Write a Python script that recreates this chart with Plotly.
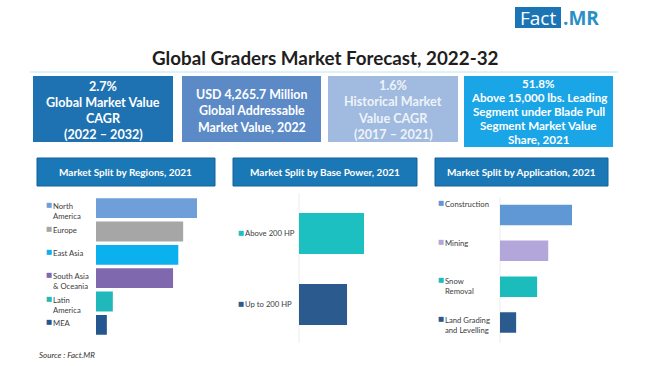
import plotly.graph_objects as go

W, H = 650, 366

# ---------------- data ----------------
title = "Global Graders Market Forecast, 2022-32"

kpi_lines = [
    ["2.7%", "Global Market Value", "CAGR", "(2022 – 2032)"],
    ["USD 4,265.7 Million", "Global Addressable", "Market Value, 2022"],
    ["1.6%", "Historical Market", "Value CAGR", "(2017 – 2021)"],
    ["51.8%", "Above 15,000 lbs. Leading", "Segment under Blade Pull", "Segment Market Value", "Share, 2021"],
]

region_labels = ["North<br>America", "Europe", "East Asia", "South Asia<br>& Oceania", "Latin<br>America", "MEA"]
region_values = [27.0, 23.3, 22.0, 20.6, 4.5, 2.9]
region_colors = ["#6f9fd8", "#a6a6a6", "#0bb0ee", "#7f68ad", "#20b8bb", "#24568f"]

power_labels = ["Above 200 HP", "Up to 200 HP"]
power_values = [57.5, 42.5]
power_colors = ["#1cc0c0", "#2b5a8e"]

app_labels = ["Construction", "Mining", "Snow<br>Removal", "Land Grading<br>and Levelling"]
app_values = [41.5, 27.8, 21.4, 9.3]
app_colors = ["#5f98d4", "#b2a6da", "#1cbcbd", "#2b5a8e"]

panel_titles = ["Market Split by Regions, 2021", "Market Split by Base Power, 2021",
                "Market Split by Application, 2021"]

# ---------------- helpers ----------------
def px(x):
    return x / W

def py(y):
    return 1 - y / H

fig = go.Figure()
shapes = []
annotations = []

# logo
shapes.append(dict(type="rect", xref="paper", yref="paper", x0=px(515), x1=px(561), y0=py(28), y1=py(7),
                   fillcolor="#1b75b5", line=dict(width=0), layer="below"))
annotations.append(dict(text="Fact", x=px(538), y=py(17.5), xref="paper", yref="paper", showarrow=False,
                        font=dict(family="Open Sans", size=19, color="white"), xanchor="center", yanchor="middle"))
annotations.append(dict(text="<b>.MR</b>", x=px(561), y=py(17.5), xref="paper", yref="paper", showarrow=False,
                        font=dict(family="Open Sans", size=19, color="#2a8fc6"), xanchor="left", yanchor="middle"))

# title
annotations.append(dict(text="<b>" + title + "</b>", x=px(325), y=py(58), xref="paper", yref="paper",
                        showarrow=False, font=dict(family="Lato", size=18.8, color="#1e1e1e"),
                        xanchor="center", yanchor="middle"))
shapes.append(dict(type="line", xref="paper", yref="paper", x0=px(30), x1=px(618), y0=py(72), y1=py(72),
                   line=dict(color="#dcf3fb", width=2)))

# KPI boxes
kpi_boxes = [(33, 173, 142), (182, 321, 142), (328, 458, 142), (464, 613, 147)]
kpi_colors = ["#1e72b1", "#5b8ac7", "#a0bbdf", "#19a5e6"]
kpi_text_colors = ["white", "white", "#eef3fa", "white"]
kpi_sizes = [12.6, 12.4, 12.6, 11.6]
kpi_first = [86, 94, 85, 83]
kpi_step = [16.2, 16.5, 16.5, 14.1]
for (x0, x1, yb), c, tc, lines, s, f0, st in zip(kpi_boxes, kpi_colors, kpi_text_colors, kpi_lines,
                                                 kpi_sizes, kpi_first, kpi_step):
    shapes.append(dict(type="rect", xref="paper", yref="paper", x0=px(x0), x1=px(x1), y0=py(yb), y1=py(76),
                       fillcolor=c, line=dict(width=0), layer="below"))
    for k, t in enumerate(lines):
        annotations.append(dict(text="<b>" + t + "</b>", x=px((x0 + x1) / 2), y=py(f0 + k * st), xref="paper",
                                yref="paper", showarrow=False, align="center",
                                font=dict(family="Lato", size=s, color=tc),
                                xanchor="center", yanchor="middle", borderpad=0))

# panel headers
header_boxes = [(37, 215), (233, 417), (435, 608)]
for (x0, x1), t in zip(header_boxes, panel_titles):
    shapes.append(dict(type="rect", xref="paper", yref="paper", x0=px(x0), x1=px(x1), y0=py(186), y1=py(158),
                       fillcolor="#1a78b6", line=dict(color="#12609a", width=1), layer="below"))
    annotations.append(dict(text="<b>" + t + "</b>", x=px((x0 + x1) / 2), y=py(172), xref="paper",
                            yref="paper", showarrow=False, font=dict(family="Lato", size=10, color="white"),
                            xanchor="center", yanchor="middle"))

# ---------------- bar panels ----------------
# label placement: 'cat' -> attached to category with a shift; 'grid' -> own evenly spaced rows
panels = [
    dict(labels=region_labels, values=region_values, colors=region_colors,
         xd=(96, 206), yd=(196.5, 336.5), R=27.0 * 110 / 101, gap=0.15,
         sq_x=43.5, txt_x=51, mode="cat", anchor="top", yshift=9, line_y=None),
    dict(labels=power_labels, values=power_values, colors=power_colors,
         xd=(299, 400), yd=(198, 340), R=57.5 * 101 / 65, gap=0.42,
         sq_x=235.5, txt_x=243, mode="cat", anchor="middle", yshift=1, line_y=(193, 343)),
    dict(labels=app_labels, values=app_values, colors=app_colors,
         xd=(500, 600), yd=(197, 340.5), R=41.5 * 100 / 72, gap=0.43,
         sq_x=435.5, txt_x=443, mode="grid", grid0=203, gridstep=38.7, line_y=(198, 343)),
]

label_font = dict(family="Lato", size=7.7, color="#3c3c3c")
layout_axes = {}
for i, p in enumerate(panels):
    n = i + 1
    xa = "x" if n == 1 else f"x{n}"
    ya = "y" if n == 1 else f"y{n}"
    ncat = len(p["labels"])
    fig.add_trace(go.Bar(
        x=p["values"], y=p["labels"], orientation="h", width=1 - p["gap"],
        marker=dict(color=p["colors"], line=dict(width=0)),
        xaxis=xa, yaxis=ya, showlegend=False, hoverinfo="x+y",
    ))
    layout_axes["xaxis" if n == 1 else f"xaxis{n}"] = dict(
        domain=[px(p["xd"][0]), px(p["xd"][1])], range=[0, p["R"]],
        showgrid=False, zeroline=False, showticklabels=False, showline=False,
        anchor=ya, fixedrange=True)
    layout_axes["yaxis" if n == 1 else f"yaxis{n}"] = dict(
        domain=[py(p["yd"][1]), py(p["yd"][0])], type="category",
        categoryorder="array", categoryarray=p["labels"], range=[ncat - 0.5, -0.5],
        showgrid=False, zeroline=False, showticklabels=False, showline=False,
        anchor=xa, fixedrange=True)
    if p["line_y"]:
        shapes.append(dict(type="line", xref="paper", yref="paper",
                           x0=px(p["xd"][0]), x1=px(p["xd"][0]),
                           y0=py(p["line_y"][0]), y1=py(p["line_y"][1]),
                           line=dict(color="#ececec", width=1), layer="below"))
    for k, (lab, col) in enumerate(zip(p["labels"], p["colors"])):
        if p["mode"] == "cat":
            yy, yref, anc, ysh = lab, ya, p["anchor"], p["yshift"]
        else:
            yy, yref, anc, ysh = py(p["grid0"] - 6 + k * p["gridstep"]), "paper", "top", 0
        annotations.append(dict(
            text=lab, x=px(p["txt_x"]), xref="paper", y=yy, yref=yref,
            xanchor="left", yanchor=anc, yshift=ysh, align="left",
            showarrow=False, font=label_font))
        annotations.append(dict(
            text="■", x=px(p["sq_x"]), xref="paper", y=yy, yref=yref,
            xanchor="left", yanchor=anc, yshift=ysh, align="left",
            showarrow=False, font=dict(family="DejaVu Sans", size=6.5, color=col)))

# source
annotations.append(dict(text="<i>Source : Fact.MR</i>", x=px(37), y=py(355), xref="paper", yref="paper",
                        showarrow=False, xanchor="left", yanchor="middle",
                        font=dict(family="Lato", size=8, color="#333333")))

fig.update_layout(
    width=W, height=H, margin=dict(l=0, r=0, t=0, b=0),
    paper_bgcolor="white", plot_bgcolor="white",
    shapes=shapes, annotations=annotations,
    **layout_axes,
)

fig.write_html("out.html", config={"displayModeBar": False},
               post_script="document.body.style.margin='0';document.body.style.overflow='hidden';")
